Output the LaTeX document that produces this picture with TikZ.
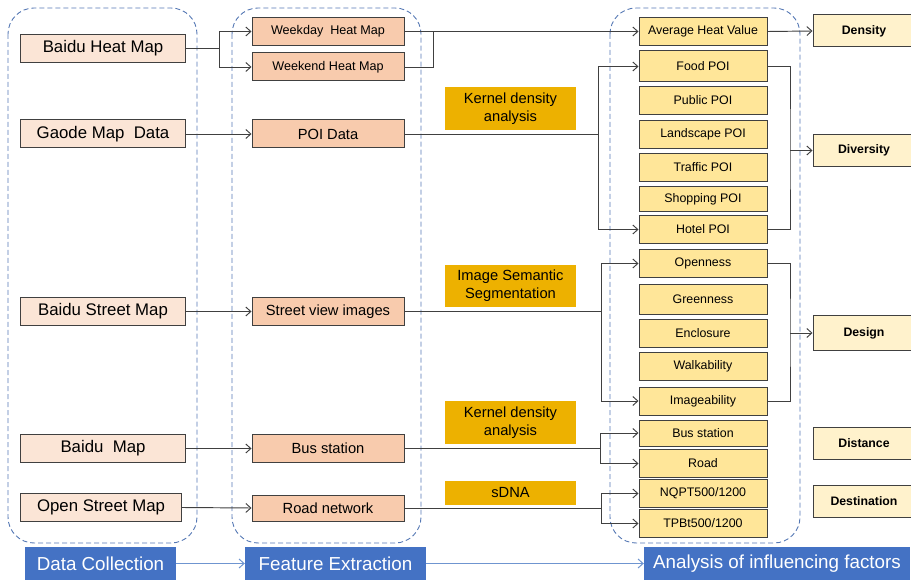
\documentclass[tikz,border=0pt]{standalone}
\usepackage{fontspec}
\setmainfont{Liberation Sans}
\usetikzlibrary{arrows.meta}
\definecolor{srcfill}{RGB}{251,229,214}
\definecolor{featfill}{RGB}{248,203,173}
\definecolor{methfill}{RGB}{237,177,0}
\definecolor{factfill}{RGB}{255,230,153}
\definecolor{outfill}{RGB}{255,242,204}
\definecolor{stageblue}{RGB}{68,114,196}
\definecolor{stageline}{RGB}{111,149,208}
\definecolor{groupline}{RGB}{85,120,180}
\definecolor{edge}{RGB}{64,64,64}
\begin{document}
\begin{tikzpicture}[x=1pt, y=-1pt,
    box/.style={draw=edge, line width=1pt, inner sep=1pt, minimum height=28pt},
    srcbox/.style={box, fill=srcfill, minimum width=165pt, font=\fontsize{16.8}{18}\selectfont},
    featbox/.style={box, fill=featfill, minimum width=152pt, font=\fontsize{14.7}{16}\selectfont},
    methbox/.style={fill=methfill, minimum width=131pt, align=center, inner sep=1pt, font=\fontsize{14.7}{18}\selectfont},
    factbox/.style={box, fill=factfill, minimum width=128pt, font=\fontsize{12.4}{14}\selectfont},
    outbox/.style={box, fill=outfill, minimum width=102pt, minimum height=32pt, font=\bfseries\fontsize{12.3}{14}\selectfont},
    stagebox/.style={fill=stageblue, text=white, minimum height=33pt, inner sep=1pt, font=\fontsize{18.8}{20}\selectfont},
    group/.style={draw=groupline, line width=0.9pt, dash pattern=on 5pt off 3pt, rounded corners=26pt},
    link/.style={draw=edge, line width=0.95pt},
    arr/.style={link, -{Straight Barb[length=5pt,width=9pt]}},
    stagearr/.style={draw=stageline, line width=1pt, -{Straight Barb[length=5pt,width=9pt]}}]
    \useasboundingbox (0,0) rectangle (911,580);

    % dashed groups
    \draw[group] (8,8) rectangle (197,543);
    \draw[group] (232,8) rectangle (421,543);
    \draw[group] (610,8) rectangle (800,543);

    % data collection
    \node[srcbox] (bheat) at (103,48.5) {Baidu Heat Map};
    \node[srcbox] (gaode) at (103,134) {Gaode Map~~Data};
    \node[srcbox] (bstreet) at (103,311.5) {Baidu Street Map};
    \node[srcbox] (bmap) at (103,448.5) {Baidu~~Map};
    \node[srcbox, minimum width=161pt] (osm) at (101,507.5) {Open Street Map};

    % feature extraction
    \node[featbox, font=\fontsize{12.6}{14}\selectfont] (weekday) at (328,31.5) {Weekday~~Heat Map};
    \node[featbox, font=\fontsize{12.6}{14}\selectfont] (weekend) at (328,67) {Weekend Heat Map};
    \node[featbox] (poi) at (328,134) {POI Data};
    \node[featbox] (svi) at (328,311.5) {Street view images};
    \node[featbox] (bus) at (328,448.5) {Bus station};
    \node[featbox, minimum height=26pt] (roadnet) at (328,508) {Road network};

    % methods
    \node[methbox, minimum height=43pt] (kda1) at (510.5,108.5) {Kernel density\\analysis};
    \node[methbox, minimum height=42pt] (iss) at (510.5,286) {Image Semantic\\Segmentation};
    \node[methbox, minimum height=43pt] (kda2) at (510.5,422.5) {Kernel density\\analysis};
    \node[methbox, minimum height=24pt] (sdna) at (510.5,493) {sDNA};

    % influencing factors
    \node[factbox] (avgheat) at (703,31.5) {Average Heat Value};
    \node[factbox, minimum height=31pt] (food) at (703,66.5) {Food POI};
    \node[factbox] (public) at (703,100.5) {Public POI};
    \node[factbox] (landscape) at (703,134.5) {Landscape POI};
    \node[factbox] (traffic) at (703,167.5) {Traffic POI};
    \node[factbox, minimum height=25pt] (shopping) at (703,199.5) {Shopping POI};
    \node[factbox] (hotel) at (703,229.5) {Hotel POI};
    \node[factbox] (openness) at (703,263.5) {Openness};
    \node[factbox, minimum height=30pt] (greenness) at (703,299.5) {Greenness};
    \node[factbox] (enclosure) at (703,333.5) {Enclosure};
    \node[factbox] (walkability) at (703,366.5) {Walkability};
    \node[factbox] (imageability) at (703,401) {Imageability};
    \node[factbox, minimum height=26pt] (busst) at (703,433) {Bus station};
    \node[factbox] (road) at (703,463.5) {Road};
    \node[factbox] (nqpt) at (703,493.5) {NQPT500/1200};
    \node[factbox] (tpbt) at (703,523.5) {TPBt500/1200};

    % dimensions
    \node[outbox] (density) at (864,31) {Density};
    \node[outbox] (diversity) at (864,150.5) {Diversity};
    \node[outbox, minimum height=34pt] (design) at (864,333) {Design};
    \node[outbox] (distance) at (864,443.5) {Distance};
    \node[outbox] (destination) at (864,501) {Destination};

    % stages
    \node[stagebox, minimum width=151pt] (datacol) at (100.5,563.5) {Data Collection};
    \node[stagebox, minimum width=181pt] (featext) at (335.5,563.5) {Feature Extraction};
    \node[stagebox, minimum width=266pt] (analysis) at (777,563.5) {Analysis of influencing factors};
    \draw[stagearr] (datacol) -- (featext);
    \draw[stagearr] (featext) -- (analysis);

    % junctions
    \coordinate (j1) at (219,48.5);
    \coordinate (j2) at (433,31.5);
    \coordinate (j3) at (598,134);
    \coordinate (j4) at (601,311.5);
    \coordinate (j5) at (600,448.5);
    \coordinate (j6) at (601,508);
    \coordinate (k1) at (790,150.5);
    \coordinate (k2) at (790,333);

    % heat map
    \draw[link] (bheat.east) -- (j1);
    \draw[arr] (j1) |- (weekday.west);
    \draw[arr] (j1) |- (weekend.west);
    \draw[arr] (weekday.east) -- (avgheat.west);
    \draw[link] (weekend.east) -| (j2);
    \draw[arr] (avgheat.east) -- (density.west);

    % poi
    \draw[arr] (gaode.east) -- (poi.west);
    \draw[link] (poi.east) -- (j3);
    \draw[arr] (j3) |- (food.west);
    \draw[arr] (j3) |- (hotel.west);
    \draw[link] (food.east) -| (k1) |- (hotel.east);
    \draw[arr] (k1) -- (diversity.west);

    % street view
    \draw[arr] (bstreet.east) -- (svi.west);
    \draw[link] (svi.east) -- (j4);
    \draw[arr] (j4) |- (openness.west);
    \draw[arr] (j4) |- (imageability.west);
    \draw[link] (openness.east) -| (k2) |- (imageability.east);
    \draw[arr] (k2) -- (design.west);

    % bus and road
    \draw[arr] (bmap.east) -- (bus.west);
    \draw[link] (bus.east) -- (j5);
    \draw[arr] (j5) |- (busst.west);
    \draw[arr] (j5) |- (road.west);
    \draw[arr] (osm.east) -- (roadnet.west);
    \draw[link] (roadnet.east) -- (j6);
    \draw[arr] (j6) |- (nqpt.west);
    \draw[arr] (j6) |- (tpbt.west);
\end{tikzpicture}
\end{document}
